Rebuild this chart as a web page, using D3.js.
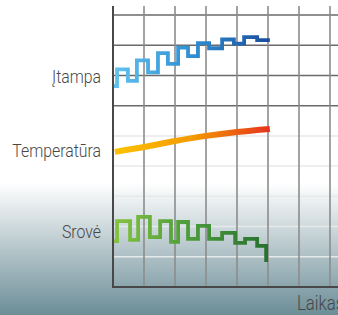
<!DOCTYPE html>
<html lang="lt">
<head>
	<meta charset="UTF-8"/>
	<title>Įtampa, temperatūra, srovė</title>
	<script src="https://d3js.org/d3.v7.min.js"></script>
	<style>
		body { margin: 0; background: #fff; }
		svg { display: block; }
		text { font-family: Roboto, "Liberation Sans", sans-serif; font-weight: 300; fill: #474747; }
	</style>
</head>
<body>
<script>

	var w = 338;
	var h = 315;

	// series names (labels on the left)
	var seriesNames = ["Įtampa", "Temperatūra", "Srovė"];
	var axisLabel = "Laikas";

	// Įtampa - square wave, step times and levels
	var voltT = [0.03, 0.13, 0.48, 0.77, 1.13, 1.45, 1.77, 2.10, 2.42, 2.74, 3.10, 3.52, 3.90, 4.23, 4.65, 5.06];
	var voltV = [6.65, 7.20, 6.82, 7.50, 7.10, 7.74, 7.38, 7.92, 7.64, 8.07, 7.90, 8.19, 8.05, 8.27, 8.17, 8.17];

	// Temperatūra - smooth curve
	var tempT = [0.06, 1.0, 2.0, 3.0, 4.0, 5.06];
	var tempV = [4.47, 4.63, 4.83, 5.00, 5.13, 5.23];

	// Srovė - square wave, step times and levels
	var currT = [0.03, 0.13, 0.55, 0.81, 1.19, 1.52, 1.87, 2.10, 2.42, 2.74, 3.10, 3.52, 3.94, 4.26, 4.65, 4.94];
	var currV = [1.52, 2.18, 1.56, 2.32, 1.65, 2.18, 1.49, 2.15, 1.59, 2.02, 1.59, 1.79, 1.46, 1.59, 1.36, 0.83];

	// grid positions
	var xTicks = [1, 2, 3, 4, 5, 6, 7];
	var yTicks = [1, 2, 3, 4, 5, 6, 7, 8, 9];

	var xScale = d3.scaleLinear()
					.domain([0, 7])
					.range([113, 330]);

	var yScale = d3.scaleLinear()
					.domain([0, 9])
					.range([287, 15]);

	var svg = d3.select("body")
		.append("svg")
		.attr("width", w)
		.attr("height", h);

	var defs = svg.append("defs");

	//background gradient
	var bg = defs.append("linearGradient")
		.attr("id", "bg")
		.attr("x1", 0).attr("y1", 0)
		.attr("x2", 0).attr("y2", 1);
	bg.append("stop").attr("offset", "0.58").attr("stop-color", "#ffffff");
	bg.append("stop").attr("offset", "1").attr("stop-color", "#6c8d97");

	svg.append("rect")
		.attr("width", w)
		.attr("height", h)
		.attr("fill", "url(#bg)");

	// colour gradients along the time axis
	function lineGradient(id, stops) {
		var g = defs.append("linearGradient")
			.attr("id", id)
			.attr("gradientUnits", "userSpaceOnUse")
			.attr("x1", xScale(0)).attr("y1", 0)
			.attr("x2", xScale(5.1)).attr("y2", 0);
		stops.forEach(function(s){
			g.append("stop").attr("offset", s[0]).attr("stop-color", s[1]);
		});
	}
	lineGradient("gVolt", [[0, "#62c3ee"], [0.5, "#2f8fd2"], [1, "#1a4c9c"]]);
	lineGradient("gTemp", [[0, "#fdc300"], [0.5, "#f39a00"], [1, "#e6321e"]]);
	lineGradient("gCurr", [[0, "#86c440"], [0.5, "#4a9a3a"], [1, "#276f30"]]);

	//horizontal grid
	svg.selectAll(".hgrid")
		.data(yTicks)
		.enter()
		.append("line")
		.attr("class", "hgrid")
		.attr("x1", xScale(0))
		.attr("x2", w)
		.attr("y1", function(d){ return yScale(d); })
		.attr("y2", function(d){ return yScale(d); })
		.attr("stroke", function(d){ return d >= 6 ? "#6a6a6a" : "#e6e9ea"; })
		.attr("stroke-width", 1.5);

	//vertical grid
	svg.selectAll(".vgrid")
		.data(xTicks)
		.enter()
		.append("line")
		.attr("class", "vgrid")
		.attr("x1", function(d){ return xScale(d); })
		.attr("x2", function(d){ return xScale(d); })
		.attr("y1", 6)
		.attr("y2", yScale(0))
		.attr("stroke", "#8c8c8c")
		.attr("stroke-width", 1.6);

	// axes
	svg.append("line")
		.attr("x1", xScale(0)).attr("x2", xScale(0))
		.attr("y1", 6).attr("y2", yScale(0) + 1)
		.attr("stroke", "#484848")
		.attr("stroke-width", 2);

	svg.append("line")
		.attr("x1", xScale(0)).attr("x2", w)
		.attr("y1", yScale(0)).attr("y2", yScale(0))
		.attr("stroke", "#484848")
		.attr("stroke-width", 2);

	// lines
	var stepLine = d3.line()
		.x(function(d){ return xScale(d[0]); })
		.y(function(d){ return yScale(d[1]); })
		.curve(d3.curveStepAfter);

	var smoothLine = d3.line()
		.x(function(d){ return xScale(d[0]); })
		.y(function(d){ return yScale(d[1]); })
		.curve(d3.curveMonotoneX);

	svg.append("path")
		.datum(d3.zip(voltT, voltV))
		.attr("d", stepLine)
		.attr("fill", "none")
		.attr("stroke", "url(#gVolt)")
		.attr("stroke-width", 3.8);

	svg.append("path")
		.datum(d3.zip(tempT, tempV))
		.attr("d", smoothLine)
		.attr("fill", "none")
		.attr("stroke", "url(#gTemp)")
		.attr("stroke-width", 6);

	svg.append("path")
		.datum(d3.zip(currT, currV))
		.attr("d", stepLine)
		.attr("fill", "none")
		.attr("stroke", "url(#gCurr)")
		.attr("stroke-width", 3.8);

	// series labels (condensed look)
	var labelLevels = [6.75, 4.30, 1.62];
	svg.selectAll(".lbl")
		.data(seriesNames)
		.enter()
		.append("text")
		.attr("class", "lbl")
		.attr("transform", function(d, i){
			return "translate(101," + yScale(labelLevels[i]) + ") scale(0.88,1)";
		})
		.style("text-anchor", "end")
		.style("font-size", "18px")
		.text(function(d){ return d; });

	//x-axis label, runs off the right edge like the original
	svg.append("text")
		.attr("transform", "translate(297,310) scale(0.84,1)")
		.style("font-size", "20px")
		.text(axisLabel);

</script>
</body>
</html>
